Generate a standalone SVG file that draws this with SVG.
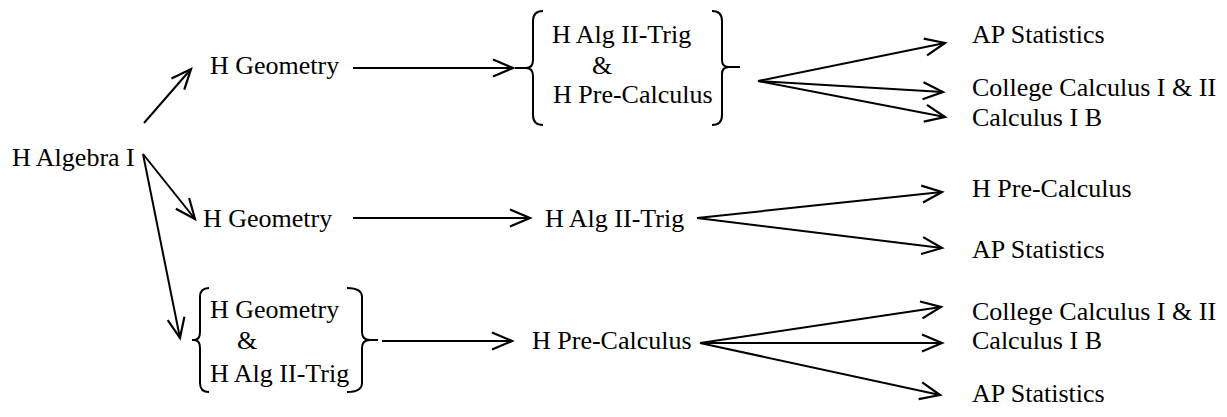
<svg xmlns="http://www.w3.org/2000/svg" width="1227" height="417" viewBox="0 0 1227 417">
<style>
text{font-family:"Liberation Serif","Times New Roman",serif;font-size:26px;fill:#000}
.ln{stroke:#000;stroke-width:2;fill:none}
.ar{stroke:#000;stroke-width:2;fill:none;marker-end:url(#ah)}
.br{stroke:#000;stroke-width:2;fill:none}
</style>
<defs>
<marker id="ah" markerUnits="userSpaceOnUse" orient="auto" markerWidth="30" markerHeight="30" viewBox="-25 -15 30 30" refX="0" refY="0" overflow="visible">
<path d="M-20,-8.5 L0,0 L-20,8.5" fill="none" stroke="#000" stroke-width="2.2" stroke-linejoin="miter"/>
</marker>
</defs>
<rect width="1227" height="417" fill="#fff"/>
<g id="connectors">
<line class="ar" x1="144" y1="123" x2="191" y2="69"/>
<line class="ar" x1="143" y1="154" x2="195" y2="219"/>
<line class="ar" x1="143" y1="154" x2="180" y2="338"/>
<line class="ar" x1="353" y1="68" x2="513" y2="68"/>
<line class="ar" x1="353" y1="218" x2="530" y2="218"/>
<line class="ar" x1="382" y1="341" x2="512" y2="341"/>
<line class="ar" x1="758" y1="81" x2="945" y2="43"/>
<line class="ar" x1="758" y1="81" x2="943" y2="92"/>
<line class="ar" x1="758" y1="81" x2="945" y2="117"/>
<line class="ar" x1="697" y1="218" x2="942" y2="192"/>
<line class="ar" x1="697" y1="218" x2="942" y2="248"/>
<line class="ar" x1="700" y1="343" x2="941" y2="307"/>
<line class="ar" x1="700" y1="343" x2="942" y2="343"/>
<line class="ar" x1="700" y1="343" x2="940" y2="395"/>
</g>
<g id="n-algebra"><text x="12" y="166">H Algebra I</text></g>
<g id="n-geo1"><text x="210" y="74">H Geometry</text></g>
<g id="n-box1">
<path class="br" d="M543,11 Q533,11 533,21 L533,60 Q533,68 526,68 Q533,68 533,76 L533,115 Q533,125 543,125 M515,68 L526,68"/>
<path class="br" d="M712,11 Q722,11 722,21 L722,60 Q722,67 729,67 Q722,67 722,74 L722,115 Q722,125 712,125 M729,67 L740,67"/>
<text x="552" y="43">H Alg II-Trig</text>
<text x="592" y="74">&amp;</text>
<text x="553" y="103">H Pre-Calculus</text>
</g>
<g id="n-geo2"><text x="203" y="227">H Geometry</text></g>
<g id="n-alg2"><text x="545" y="227">H Alg II-Trig</text></g>
<g id="n-box2">
<path class="br" d="M209,288 Q200,288 200,297 L200,332 Q200,340 194,340 Q200,340 200,348 L200,383 Q200,392 209,392 M192,340 L194,340"/>
<path class="br" d="M347,288 Q362,288 362,297 L362,332 Q362,340 370,340 Q362,340 362,348 L362,383 Q362,392 347,392 M370,340 L378,340"/>
<text x="210" y="318">H Geometry</text>
<text x="237" y="349">&amp;</text>
<text x="210" y="382">H Alg II-Trig</text>
</g>
<g id="n-precalc3"><text x="532" y="349">H Pre-Calculus</text></g>
<g id="n-ap1"><text x="972" y="43">AP Statistics</text></g>
<g id="n-cc1"><text x="972" y="96">College Calculus I &amp; II</text></g>
<g id="n-cib1"><text x="972" y="126">Calculus I B</text></g>
<g id="n-pc2"><text x="972" y="197">H Pre-Calculus</text></g>
<g id="n-ap2"><text x="972" y="258">AP Statistics</text></g>
<g id="n-cc2"><text x="972" y="320">College Calculus I &amp; II</text></g>
<g id="n-cib2"><text x="972" y="349">Calculus I B</text></g>
<g id="n-ap3"><text x="972" y="402">AP Statistics</text></g>
</svg>
